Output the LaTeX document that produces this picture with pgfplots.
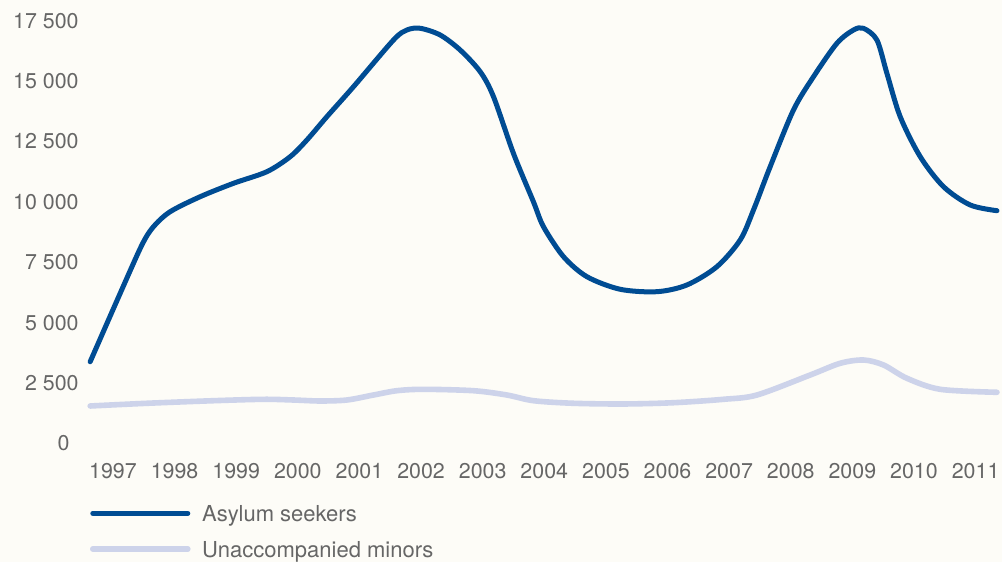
\documentclass[border=0pt]{standalone}
\usepackage{fontspec}
\setmainfont{TeX Gyre Heros}
\usepackage{pgfplots}
\pgfplotsset{compat=1.18}

\definecolor{asylum}{RGB}{0,76,147}
\definecolor{minors}{RGB}{205,211,234}
\definecolor{paper}{RGB}{253,252,247}
\definecolor{labelgray}{RGB}{102,102,102}

\begin{document}
\begin{tikzpicture}
\fill[paper] (0,0) rectangle (501pt,281pt);
\path[use as bounding box] (0,0) rectangle (501pt,281pt);
\begin{axis}[
  at={(45pt,59.3pt)}, anchor=south west,
  scale only axis, width=454pt, height=211.3pt,
  xmin=1996.627, xmax=2011.362,
  ymin=0, ymax=17500,
  scaled y ticks=false,
  clip=false,
  axis line style={draw=none},
  major tick length=0pt,
  tick style={draw=none},
  xtick={1997,...,2011},
  xticklabels={1997,1998,1999,2000,2001,2002,2003,2004,2005,2006,2007,2008,2009,2010,2011},
  ytick={0,2500,5000,7500,10000,12500,15000,17500},
  yticklabels={{0\hspace*{4.5pt}},2 500,5 000,7 500,10 000,12 500,15 000,17 500},
  tick label style={font=\fontsize{10.7}{12}\selectfont, text=labelgray, inner sep=0pt},
  xticklabel style={anchor=center, yshift=-13.7pt},
  yticklabel style={anchor=east, xshift=-5.5pt},
  legend style={at={(0,0)}, anchor=north west, yshift=-31.2pt,
    draw=none, fill=none, inner sep=0pt, outer sep=0pt,
    row sep=8.3pt, column sep=5.75pt,
    nodes={inner sep=0pt, text=labelgray, font=\fontsize{11}{12}\selectfont}},
  legend cell align=left,
  legend image code/.code={\draw[#1, line cap=round] (0pt,1pt) -- (47.5pt,1pt);},
]
% Asylum seekers
\addplot[asylum, line width=2.5pt, line cap=round, line join=round, smooth] coordinates {
(1996.63,3383) (1997.117,6216) (1997.469,8216) (1997.657,8974) (1997.928,9595)
(1998.415,10216) (1998.956,10771) (1999.498,11252) (1999.876,11873) (2000.147,12564)
(2000.471,13529) (2000.903,14771) (2001.552,16705) (2001.769,17119) (2001.985,17190)
(2002.31,16912) (2002.634,16291) (2002.959,15393) (2003.175,14357) (2003.5,12000)
(2003.824,10000) (2003.986,8974) (2004.311,7732) (2004.691,6903) (2005.231,6382)
(2005.827,6282) (2006.313,6560) (2006.8,7317) (2007.178,8423) (2007.394,9665)
(2007.665,11459) (2008.043,13807) (2008.368,15186) (2008.748,16569) (2009.017,17119)
(2009.179,17190) (2009.397,16705) (2009.559,15326) (2009.775,13529) (2010.1,11873)
(2010.478,10630) (2010.911,9873) (2011.345,9636)
};
\addlegendentry{Asylum seekers}
% Unaccompanied minors
\addplot[minors, line width=2.8pt, line cap=round, line join=round, smooth] coordinates {
(1996.63,1549) (1997.55,1661) (1998.631,1768) (1999.442,1826) (1999.929,1797)
(2000.363,1756) (2000.796,1797) (2001.227,2004) (2001.607,2182) (2002.039,2240)
(2002.85,2182) (2003.392,2004) (2003.824,1768) (2004.473,1661) (2005.285,1632)
(2006.096,1685) (2006.908,1826) (2007.45,2004) (2008.315,2833) (2008.8,3317)
(2009.179,3454) (2009.504,3247) (2009.884,2696) (2010.424,2240) (2011.345,2116)
};
\addlegendentry{Unaccompanied minors}
\end{axis}
\end{tikzpicture}
\end{document}
